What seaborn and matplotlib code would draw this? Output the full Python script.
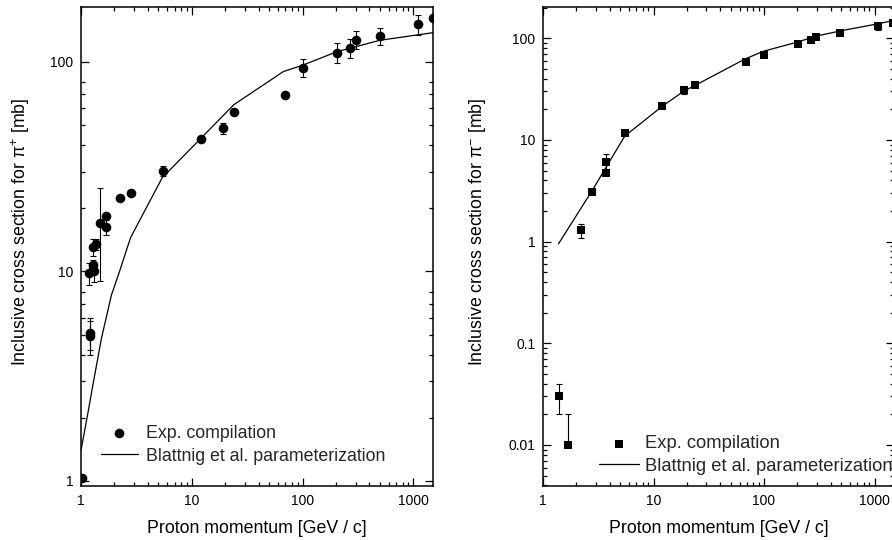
import numpy as np
import pandas as pd
import matplotlib
matplotlib.use('Agg')
import matplotlib.pyplot as plt
import seaborn as sns
from matplotlib.ticker import LogLocator, FuncFormatter, NullFormatter

# pi+ : experimental compilation (left panel)
pip_p = [1.02, 1.19, 1.20, 1.20, 1.27, 1.28, 1.30, 1.37, 1.47, 1.67, 1.69, 2.24, 2.83, 5.5, 12.0, 19.2, 24.1, 68.7, 100, 204, 268, 303, 496, 1100, 1495]
pip_sigma = [1.03, 9.8, 5.1, 4.9, 10.7, 13.1, 10.0, 13.5, 17.0, 18.4, 16.3, 22.3, 23.6, 30.2, 43.1, 48.3, 57.6, 69.7, 93.8, 110.6, 117, 128, 133, 151, 162]
pip_err = [0, 1.2, 0.9, 0.9, 0.7, 1.2, 1.1, 0.8, 8.0, 0, 1.4, 0, 0, 1.6, 0, 3.1, 0, 0, 9, 12, 12, 13, 13, 16, 0]

# pi+ : Blattnig et al. parameterization
blat_p_pip = [1.0, 1.16, 1.28, 1.53, 1.88, 2.24, 2.8, 5.4, 24, 67, 100, 204, 500, 1500]
blat_s_pip = [1.4, 2.14, 2.87, 4.8, 7.7, 10.1, 14.5, 28, 62.6, 90, 96.5, 112, 127, 138]

# pi- : experimental compilation (right panel)
pim_p = [1.39, 1.68, 2.21, 2.79, 3.69, 3.69, 5.49, 11.9, 18.9, 23.8, 68.2, 100, 201, 264, 297, 488, 1081, 1458]
pim_sigma = [0.030, 0.010, 1.29, 3.07, 4.77, 6.12, 11.8, 21.5, 31.0, 34.7, 58.9, 68.4, 88.5, 96.0, 102, 112.5, 131, 140]
pim_err_lo = [0.01, 0, 0.2, 0, 0, 1.0, 0.8, 0, 3, 0, 0, 0, 0, 6, 0, 8, 10, 0]
pim_err_hi = [0.01, 0.01, 0.2, 0, 0, 1.2, 0.8, 0, 3, 0, 0, 0, 0, 6, 0, 8, 10, 0]

# pi- : Blattnig et al. parameterization
blat_p_pim = [1.38, 2.83, 3.69, 5.49, 11.9, 18.9, 23.8, 68.2, 100, 201, 297, 488, 1081, 1500]
blat_s_pim = [0.95, 3.27, 5.3, 10.9, 21.3, 30.3, 34.4, 63, 74.8, 91.8, 105, 118, 139, 150]

sns.set_theme(style='ticks')
plt.rcParams['font.family'] = ['Liberation Sans', 'DejaVu Sans']
plt.rcParams['mathtext.fontset'] = 'custom'
plt.rcParams['mathtext.rm'] = 'Liberation Sans'
plt.rcParams['mathtext.default'] = 'regular'

fig = plt.figure(figsize=(8.92, 5.40), dpi=100)
ax1 = fig.add_axes([81/892, 54/540, 352/892, 479/540])
ax2 = fig.add_axes([543/892, 54/540, 351/892, 479/540])


def style_axes(ax, ylim, ysubs):
    ax.set_xscale('log')
    ax.set_yscale('log')
    ax.set_xlim(1, 1500)
    ax.set_ylim(*ylim)
    ax.xaxis.set_major_locator(LogLocator(base=10))
    ax.xaxis.set_minor_locator(LogLocator(base=10, subs=np.arange(2, 10)))
    ax.yaxis.set_major_locator(LogLocator(base=10))
    ax.yaxis.set_minor_locator(LogLocator(base=10, subs=ysubs))
    fmt = FuncFormatter(lambda v, pos: '{:g}'.format(v))
    ax.xaxis.set_major_formatter(fmt)
    ax.yaxis.set_major_formatter(fmt)
    ax.xaxis.set_minor_formatter(NullFormatter())
    ax.yaxis.set_minor_formatter(NullFormatter())
    ax.tick_params(which='both', direction='in', top=True, right=True,
                   colors='black', labelsize=10, width=0.9)
    ax.tick_params(which='major', length=5.5, pad=5.5)
    ax.tick_params(which='minor', length=3)
    for s in ax.spines.values():
        s.set_visible(True)
        s.set_color('black')
        s.set_linewidth(1.1)
    ax.set_facecolor('white')
    ax.grid(False)


# ---- left panel: pi+
ax = ax1
mask = np.array(pip_err) > 0
ax.errorbar(np.array(pip_p)[mask], np.array(pip_sigma)[mask], yerr=np.array(pip_err)[mask],
            fmt='none', ecolor='black', elinewidth=0.8, capsize=2.5, capthick=0.8, zorder=2)
sns.lineplot(x=blat_p_pip, y=blat_s_pip, ax=ax, color='black', linewidth=0.9,
             estimator=None, sort=False, label='Blattnig et al. parameterization', zorder=2)
sns.scatterplot(x=pip_p, y=pip_sigma, ax=ax, marker='o', s=48, color='black',
                linewidth=0, label='Exp. compilation', zorder=3)
style_axes(ax, (0.946, 183), (2, 3, 4, 5, 6, 7, 8))
h, l = ax.get_legend_handles_labels()
order = [l.index('Exp. compilation'), l.index('Blattnig et al. parameterization')]
ax.legend([h[i] for i in order], [l[i] for i in order], loc='lower left',
          bbox_to_anchor=(0.037, 0.03), frameon=False, fontsize=12.8,
          handlelength=2.05, handletextpad=0.5, labelspacing=0.32, borderaxespad=0)
ax.set_xlabel('Proton momentum [GeV / c]', fontsize=12.8, color='black')
ax.set_ylabel('Inclusive cross section for π$^{+}$ [mb]', fontsize=12.8, color='black')
ax.xaxis.set_label_coords(0.5, -0.071)
ax.yaxis.set_label_coords(-0.139, 0.53)

# ---- right panel: pi-
ax = ax2
lo = np.array(pim_err_lo)
hi = np.array(pim_err_hi)
mask = (lo + hi) > 0
ax.errorbar(np.array(pim_p)[mask], np.array(pim_sigma)[mask], yerr=[lo[mask], hi[mask]],
            fmt='none', ecolor='black', elinewidth=0.8, capsize=2.5, capthick=0.8, zorder=2)
sns.lineplot(x=blat_p_pim, y=blat_s_pim, ax=ax, color='black', linewidth=0.9,
             estimator=None, sort=False, label='Blattnig et al. parameterization', zorder=2)
sns.scatterplot(x=pim_p, y=pim_sigma, ax=ax, marker='s', s=34, color='black',
                linewidth=0, label='Exp. compilation', zorder=3)
style_axes(ax, (0.00395, 203), np.arange(2, 10))
h, l = ax.get_legend_handles_labels()
order = [l.index('Exp. compilation'), l.index('Blattnig et al. parameterization')]
ax.legend([h[i] for i in order], [l[i] for i in order], loc='lower left',
          bbox_to_anchor=(0.138, 0.008), frameon=False, fontsize=13.2,
          handlelength=2.2, handletextpad=0.3, labelspacing=0.3, borderaxespad=0)
ax.set_xlabel('Proton momentum [GeV / c]', fontsize=12.8, color='black')
ax.set_ylabel('Inclusive cross section for π$^{-}$ [mb]', fontsize=12.8, color='black')
ax.xaxis.set_label_coords(0.5, -0.071)
ax.yaxis.set_label_coords(-0.157, 0.53)

fig.savefig('out.png', dpi=100, facecolor='white')
